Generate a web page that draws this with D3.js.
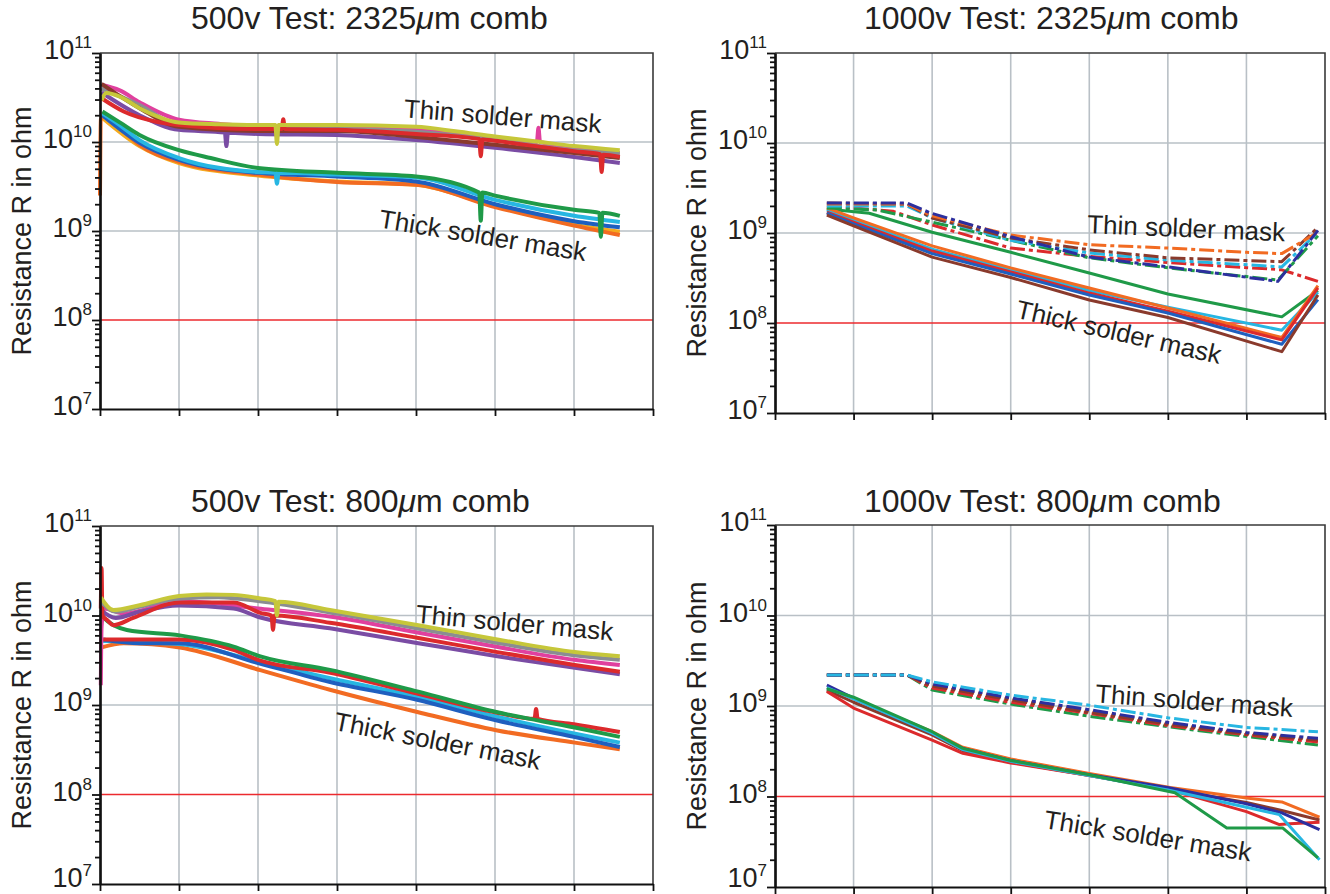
<!DOCTYPE html>
<html>
<head>
<meta charset="utf-8">
<script src="https://cdn.jsdelivr.net/npm/d3@7"></script>
<style>
  body { margin: 0; background: #fff; }
  text { font-family: "Liberation Sans", Arial, Helvetica, sans-serif; fill: #231f20; }
</style>
</head>
<body>
<svg id="chart" width="1330" height="894"></svg>
<script>
// x = position along the (unlabelled) time axis in grid units, R in ohm
const xTicks = [0, 1, 2, 3, 4, 5, 6, 7];
const decades = [1e7, 1e8, 1e9, 1e10, 1e11];
const limitR = 1e8;
const titles = ["500v Test: 2325μm comb", "1000v Test: 2325μm comb", "500v Test: 800μm comb", "1000v Test: 800μm comb"];
const yLabel = "Resistance R in ohm";
const thinLabel = "Thin solder mask";
const thickLabel = "Thick solder mask";

// --- 500v, 2325um comb ---
const tlThin = [
  [[0.02,4.4e10],[0.25,3.8e10],[0.5,2.8e10],[1.0,1.78e10],[1.5,1.6e10],[2.0,1.5e10],[3.0,1.48e10],[4.0,1.4e10],[5.0,1.1e10],[5.53,1.0e10],[5.55,1.45e10],[5.57,1.0e10],[6.0,8.8e9],[6.58,7.5e9]],
  [[0.02,4.0e10],[0.5,2.6e10],[1.0,1.55e10],[2.0,1.43e10],[3.0,1.4e10],[4.0,1.3e10],[5.0,1.05e10],[6.0,8.1e9],[6.58,7.5e9]],
  [[0.02,3.6e10],[0.5,2.0e10],[1.0,1.37e10],[1.58,1.28e10],[1.6,9.0e9],[1.62,1.27e10],[2.0,1.23e10],[3.0,1.2e10],[4.0,1.05e10],[5.0,8.6e9],[6.0,6.8e9],[6.58,5.8e9]],
  [[0.02,4.5e10],[0.5,2.4e10],[1.0,1.48e10],[2.0,1.33e10],[3.0,1.33e10],[4.0,1.14e10],[5.0,9.3e9],[6.0,7.5e9],[6.58,6.6e9]],
  [[0.02,3.1e10],[0.3,2.2e10],[0.7,1.7e10],[1.0,1.55e10],[2.0,1.4e10],[2.3,1.4e10],[2.32,1.8e10],[2.34,1.4e10],[3.0,1.37e10],[4.0,1.23e10],[4.8,1.08e10],[4.82,6.9e9],[4.84,1.07e10],[5.0,1.03e10],[6.0,7.9e9],[6.33,7.3e9],[6.35,4.6e9],[6.37,7.2e9],[6.58,6.8e9]],
  [[0.02,2.95e10],[0.08,3.55e10],[0.25,3.24e10],[0.5,2.4e10],[1.0,1.66e10],[1.5,1.58e10],[2.0,1.55e10],[2.22,1.55e10],[2.24,9.5e9],[2.26,1.55e10],[3.0,1.55e10],[4.0,1.48e10],[4.5,1.32e10],[5.0,1.15e10],[5.5,1.02e10],[6.0,9.0e9],[6.58,8.1e9]]
];
const tlThick = [
  [[0.02,1.9e10],[0.5,9.0e9],[1.0,5.8e9],[2.0,4.2e9],[3.0,3.6e9],[4.0,3.3e9],[5.0,1.9e9],[6.0,1.18e9],[6.58,9.8e8]],
  [[0.0,2.5e9],[0.01,1.78e10],[0.06,2.0e10],[0.25,1.44e10],[0.5,9.3e9],[1.0,6.0e9],[2.0,4.3e9],[3.0,3.55e9],[4.0,3.3e9],[5.0,1.86e9],[6.0,1.15e9],[6.58,9.0e8]],
  [[0.03,2.0e10],[0.5,9.8e9],[1.0,6.3e9],[2.0,4.5e9],[3.0,4.1e9],[4.0,3.6e9],[5.0,2.0e9],[6.0,1.29e9],[6.58,1.1e9]],
  [[0.03,2.1e10],[0.25,1.55e10],[0.5,1.05e10],[1.0,6.6e9],[2.0,4.6e9],[2.22,4.5e9],[2.24,3.4e9],[2.26,4.5e9],[3.0,4.3e9],[4.0,4.0e9],[5.0,2.24e9],[6.0,1.48e9],[6.58,1.26e9]],
  [[0.03,2.2e10],[0.25,1.66e10],[0.5,1.2e10],[1.0,8.1e9],[1.4,6.6e9],[2.0,5.1e9],[3.0,4.5e9],[4.0,4.1e9],[4.8,2.7e9],[4.82,1.3e9],[4.84,2.7e9],[5.0,2.5e9],[6.0,1.73e9],[6.32,1.6e9],[6.34,8.6e8],[6.36,1.6e9],[6.58,1.48e9]]
];

// --- 1000v, 2325um comb ---
const trThin = [
  [[0.66,2.0e9],[1.5,1.75e9],[2.0,1.23e9],[3.0,6.8e8],[4.0,5.5e8],[5.0,4.7e8],[6.45,3.9e8],[6.91,2.9e8]],
  [[0.66,1.9e9],[1.3,1.8e9],[2.0,1.32e9],[3.0,8.3e8],[4.0,5.3e8],[5.0,4.1e8],[6.4,3.0e8],[6.91,9.3e8]],
  [[0.66,2.0e9],[1.68,2.0e9],[2.0,1.47e9],[3.0,8.3e8],[4.0,6.0e8],[5.0,5.0e8],[6.45,4.2e8],[6.91,1.02e9]],
  [[0.66,2.15e9],[1.68,2.1e9],[2.0,1.47e9],[3.0,8.8e8],[4.0,6.5e8],[5.0,5.3e8],[6.45,4.8e8],[6.91,1.15e9]],
  [[0.66,2.1e9],[1.68,2.1e9],[2.0,1.55e9],[3.0,9.5e8],[4.0,7.4e8],[5.0,6.8e8],[6.0,6.1e8],[6.45,5.9e8],[6.91,1.02e9]],
  [[0.66,2.15e9],[1.68,2.15e9],[1.98,1.67e9],[3.0,9.1e8],[4.0,5.4e8],[5.0,4.2e8],[6.4,2.9e8],[6.91,1.07e9]]
];
const trThick = [
  [[0.66,1.85e9],[1.2,1.66e9],[2.0,1.02e9],[3.0,6.1e8],[4.0,3.6e8],[5.0,2.1e8],[6.45,1.17e8],[6.91,2.3e8]],
  [[0.66,1.8e9],[1.0,1.4e9],[2.0,6.6e8],[3.0,3.9e8],[4.0,2.3e8],[5.0,1.5e8],[6.45,8.3e7],[6.91,2.2e8]],
  [[0.66,1.9e9],[1.0,1.47e9],[2.0,7.2e8],[3.0,4.1e8],[4.0,2.45e8],[5.0,1.47e8],[6.45,6.9e7],[6.91,2.6e8]],
  [[0.66,1.7e9],[1.0,1.32e9],[2.0,6.3e8],[3.0,3.7e8],[4.0,2.15e8],[5.0,1.35e8],[6.45,6.5e7],[6.91,2.45e8]],
  [[0.66,1.66e9],[1.0,1.26e9],[2.0,5.9e8],[3.0,3.5e8],[4.0,2.05e8],[5.0,1.29e8],[6.45,5.8e7],[6.91,1.82e8]],
  [[0.66,1.58e9],[1.0,1.2e9],[2.0,5.4e8],[3.0,3.2e8],[4.0,1.8e8],[5.0,1.15e8],[6.45,4.8e7],[6.91,2.05e8]]
];

// --- 500v, 800um comb ---
const blThin = [
  [[0.01,1.66e9],[0.02,7.5e9],[0.05,1.2e10],[0.3,1.05e10],[1.0,1.45e10],[2.0,1.2e10],[3.0,9.5e9],[4.0,6.5e9],[5.0,4.5e9],[6.0,3.2e9],[6.58,2.8e9]],
  [[0.01,1.15e10],[0.2,9.4e9],[0.5,1.1e10],[1.0,1.29e10],[1.69,1.2e10],[2.03,9.5e9],[2.91,7.2e9],[4.03,4.9e9],[5.03,3.5e9],[6.01,2.6e9],[6.58,2.2e9]],
  [[0.01,1.2e10],[0.02,3.4e10],[0.03,1.0e10],[0.09,8.9e9],[0.17,7.8e9],[0.42,9.4e9],[1.01,1.4e10],[1.69,1.4e10],[2.03,1.07e10],[2.17,1.0e10],[2.19,6.9e9],[2.21,1.0e10],[2.91,8.3e9],[4.03,5.6e9],[5.03,3.9e9],[6.01,2.8e9],[6.58,2.35e9]],
  [[0.02,1.4e10],[0.2,1.1e10],[0.5,1.25e10],[1.0,1.55e10],[1.5,1.6e10],[2.0,1.45e10],[3.0,1.05e10],[4.0,7.2e9],[5.0,5.0e9],[6.0,3.6e9],[6.58,3.2e9]],
  [[0.01,1.6e10],[0.17,1.15e10],[0.5,1.3e10],[1.0,1.65e10],[1.35,1.72e10],[1.69,1.7e10],[2.03,1.55e10],[2.22,1.45e10],[2.24,1.0e10],[2.26,1.42e10],[2.91,1.15e10],[4.03,7.8e9],[5.03,5.4e9],[6.01,3.9e9],[6.58,3.5e9]]
];
const blThick = [
  [[0.02,4.4e9],[0.3,4.9e9],[1.01,4.4e9],[2.03,2.45e9],[2.91,1.48e9],[4.03,8.3e8],[5.03,5.2e8],[6.01,3.8e8],[6.58,3.2e8]],
  [[0.04,5.2e9],[1.0,4.8e9],[2.0,3.1e9],[2.9,2.0e9],[4.0,1.25e9],[5.0,7.5e8],[6.0,4.8e8],[6.58,3.8e8]],
  [[0.04,5.4e9],[0.5,4.9e9],[1.0,4.9e9],[2.0,2.95e9],[2.9,1.82e9],[4.0,1.15e9],[5.0,6.8e8],[6.0,4.4e8],[6.58,3.4e8]],
  [[0.04,5.4e9],[1.0,5.4e9],[1.7,4.1e9],[2.0,3.2e9],[2.9,2.3e9],[4.0,1.35e9],[5.0,8.3e8],[5.5,7.0e8],[5.52,9.0e8],[5.54,7.0e8],[6.0,6.1e8],[6.58,5.0e8]],
  [[0.01,1.05e10],[0.04,9.6e9],[0.34,6.9e9],[1.01,6.0e9],[1.69,4.5e9],[2.03,3.5e9],[2.91,2.47e9],[4.03,1.41e9],[5.03,8.3e8],[6.01,5.6e8],[6.58,4.4e8]]
];

// --- 1000v, 800um comb ---
const brThin = [
  [[0.66,2.2e9],[1.68,2.2e9],[2.0,1.7e9],[3.0,1.2e9],[4.0,8.8e8],[5.0,6.4e8],[6.0,5.0e8],[6.91,4.3e8]],
  [[0.66,2.2e9],[1.68,2.2e9],[2.0,1.5e9],[3.0,1.05e9],[4.0,7.7e8],[5.0,5.9e8],[6.0,4.6e8],[6.91,3.7e8]],
  [[0.66,2.2e9],[1.68,2.2e9],[2.0,1.58e9],[3.0,1.1e9],[4.0,8.3e8],[5.0,6.1e8],[6.0,4.8e8],[6.91,4.0e8]],
  [[0.66,2.2e9],[1.68,2.2e9],[2.0,1.66e9],[3.0,1.17e9],[4.0,8.5e8],[5.0,6.3e8],[6.0,4.9e8],[6.91,4.2e8]],
  [[0.66,2.2e9],[1.68,2.2e9],[2.0,1.75e9],[3.0,1.23e9],[4.0,9.1e8],[5.0,6.6e8],[6.0,5.1e8],[6.91,4.4e8]],
  [[0.66,2.2e9],[1.68,2.2e9],[2.0,1.85e9],[3.0,1.32e9],[4.0,1.02e9],[5.0,7.4e8],[6.0,5.8e8],[6.91,5.2e8]]
];
const brThick = [
  [[0.66,1.6e9],[1.0,1.2e9],[2.0,5.2e8],[2.39,3.5e8],[3.0,2.6e8],[4.0,1.8e8],[5.03,1.26e8],[6.0,9.6e7],[6.45,8.7e7],[6.93,5.9e7]],
  [[0.66,1.5e9],[1.0,1.1e9],[2.0,4.8e8],[2.39,3.2e8],[3.0,2.4e8],[4.0,1.7e8],[5.0,1.2e8],[6.0,8.6e7],[6.45,7.0e7],[6.93,5.5e7]],
  [[0.66,1.45e9],[1.0,9.5e8],[1.5,6.3e8],[2.0,4.2e8],[2.39,3.0e8],[3.0,2.35e8],[4.0,1.7e8],[5.0,1.2e8],[6.0,6.8e7],[6.42,4.9e7],[6.55,5.0e7],[6.93,5.2e7]],
  [[0.66,1.7e9],[0.98,1.25e9],[2.0,5.0e8],[2.39,3.4e8],[3.0,2.5e8],[4.0,1.74e8],[5.03,1.24e8],[6.0,8.3e7],[6.45,6.6e7],[6.93,4.3e7]],
  [[0.66,1.6e9],[1.0,1.2e9],[2.0,5.0e8],[2.39,3.3e8],[3.0,2.45e8],[4.0,1.7e8],[5.0,1.18e8],[6.0,7.6e7],[6.42,6.3e7],[6.93,2.0e7]],
  [[0.66,1.55e9],[1.0,1.25e9],[2.0,5.2e8],[2.39,3.4e8],[3.0,2.5e8],[4.0,1.74e8],[5.09,1.1e8],[5.75,4.5e7],[6.46,4.5e7],[6.91,2.1e7]]
];

// label anchors [x, R, angle]
const labelSpots = {
  tl: [[3.84, 1.9e10, 4.6], [3.52, 1.1e9, 9.3]],
  tr: [[3.97, 1.0e9, 2.4], [3.05, 1.15e8, 12.8]],
  bl: [[3.99, 8.3e9, 5.2], [2.95, 5.3e8, 11]],
  br: [[4.07, 1.1e9, 4.3], [3.41, 4.5e7, 9.2]]
};

// colours
const c = {
  olive: "#c6c73a", magenta: "#e0409e", gray: "#8a8d92", brown: "#8a3a2c", purple: "#7a4ca4",
  red: "#dc2a2c", green: "#1f9a48", cyan: "#27b6e2", blue: "#1f5fbf", orange: "#f26b22",
  amber: "#f5aa1e", navy: "#2c2f9e"
};
const tlThinColors = [c.magenta, c.gray, c.purple, c.brown, c.red, c.olive];
const tlThickColors = [c.amber, c.orange, c.blue, c.cyan, c.green];
const trThinColors = [c.red, c.green, c.cyan, c.brown, c.orange, c.navy];
const trThickColors = [c.green, c.cyan, c.orange, c.red, c.blue, c.brown];
const blThinColors = [c.magenta, c.purple, c.red, c.gray, c.olive];
const blThickColors = [c.orange, c.cyan, c.blue, c.red, c.green];
const brThinColors = [c.orange, c.green, c.red, c.brown, c.navy, c.cyan];
const brThickColors = [c.orange, c.brown, c.red, c.navy, c.cyan, c.green];

const panels = [
  { key: "tl", left: 100, top: 53, w: 553, h: 356, title: titles[0], tx: 191, ty: 29, thin: tlThin, thick: tlThick, thinC: tlThinColors, thickC: tlThickColors, dashed: false },
  { key: "tr", left: 775, top: 53, w: 550, h: 360, title: titles[1], tx: 864, ty: 29, thin: trThin, thick: trThick, thinC: trThinColors, thickC: trThickColors, dashed: true },
  { key: "bl", left: 100, top: 526, w: 553, h: 358, title: titles[2], tx: 191, ty: 512, thin: blThin, thick: blThick, thinC: blThinColors, thickC: blThickColors, dashed: false },
  { key: "br", left: 775, top: 525, w: 550, h: 362, title: titles[3], tx: 864, ty: 512, thin: brThin, thick: brThick, thinC: brThinColors, thickC: brThickColors, dashed: true }
];

const svg = d3.select("#chart");

function drawPanel(p) {
  const x = d3.scaleLinear().domain([0, 7]).range([p.left, p.left + p.w]);
  const y = d3.scaleLog().domain([1e7, 1e11]).range([p.top + p.h, p.top]);
  const g = svg.append("g");

  // title, mu in italics
  const parts = p.title.split("μ");
  const t = g.append("text").attr("x", p.tx).attr("y", p.ty).attr("font-size", 32);
  t.append("tspan").text(parts[0]);
  t.append("tspan").attr("font-style", "italic").text("μ");
  t.append("tspan").text(parts[1]);

  // grid
  g.selectAll(".vg").data(xTicks.slice(1, -1)).join("line")
    .attr("x1", d => x(d)).attr("x2", d => x(d))
    .attr("y1", p.top).attr("y2", p.top + p.h)
    .attr("stroke", "#b9c0c6").attr("stroke-width", 1.6);
  g.selectAll(".hg").data([1e9, 1e10]).join("line")
    .attr("x1", p.left).attr("x2", p.left + p.w)
    .attr("y1", d => y(d)).attr("y2", d => y(d))
    .attr("stroke", "#b9c0c6").attr("stroke-width", 1.6);

  // limit line
  g.append("line")
    .attr("x1", p.left).attr("x2", p.left + p.w)
    .attr("y1", y(limitR)).attr("y2", y(limitR))
    .attr("stroke", "#ec2a2e").attr("stroke-width", 1.6);

  // series
  const line = d3.line().x(d => x(d[0])).y(d => y(d[1]))
    .curve(p.dashed ? d3.curveLinear : d3.curveMonotoneX);
  const sw = p.dashed ? 3 : 4;
  p.thick.forEach((s, i) => {
    g.append("path").datum(s).attr("d", line)
      .attr("fill", "none").attr("stroke", p.thickC[i])
      .attr("stroke-width", sw).attr("stroke-linejoin", "round");
  });
  p.thin.forEach((s, i) => {
    g.append("path").datum(s).attr("d", line)
      .attr("fill", "none").attr("stroke", p.thinC[i])
      .attr("stroke-width", sw).attr("stroke-linejoin", "round")
      .attr("stroke-dasharray", p.dashed ? "15,4,4,4" : null);
  });

  // frame: top + right
  g.append("path")
    .attr("d", `M${p.left},${p.top}H${p.left + p.w}V${p.top + p.h}`)
    .attr("fill", "none").attr("stroke", "#3a3a3a").attr("stroke-width", 1.6);

  // y axis, minor + major ticks
  const minor = [];
  decades.slice(0, -1).forEach(d => { for (let k = 2; k <= 9; k++) minor.push(k * d); });
  const ya = g.append("g").attr("transform", `translate(${p.left},0)`)
    .call(d3.axisLeft(y).tickValues(minor).tickSize(5).tickSizeOuter(0).tickFormat(""));
  ya.append("g").call(d3.axisLeft(y).tickValues(decades).tickSize(8).tickSizeOuter(0).tickFormat(""));
  ya.selectAll("path").attr("stroke", "#111").attr("stroke-width", 2.2);
  ya.selectAll("line").attr("stroke", "#111").attr("stroke-width", 1.8);

  // decade labels 10^n (kept inside the page at the bottom edge)
  decades.forEach(d => {
    const lt = g.append("text").attr("x", p.left - 8).attr("y", Math.min(y(d) + 6, 887))
      .attr("text-anchor", "end").attr("font-size", 27);
    lt.append("tspan").text("10");
    lt.append("tspan").attr("dy", -11).attr("font-size", 17).text(Math.round(Math.log10(d)));
  });

  // x axis
  const xa = g.append("g").attr("transform", `translate(0,${p.top + p.h})`)
    .call(d3.axisBottom(x).tickValues(xTicks).tickSize(7).tickSizeOuter(0).tickFormat(""));
  xa.selectAll("path").attr("stroke", "#111").attr("stroke-width", 2.2);
  xa.selectAll("line").attr("stroke", "#111").attr("stroke-width", 1.8);

  // y label
  g.append("text")
    .attr("transform", `translate(${p.left - 69},${p.top + p.h / 2}) rotate(-90)`)
    .attr("text-anchor", "middle").attr("font-size", 27).text(yLabel);

  // group labels
  const spots = labelSpots[p.key];
  [thinLabel, thickLabel].forEach((txt, i) => {
    const [lx, lr, ang] = spots[i];
    g.append("text")
      .attr("transform", `translate(${x(lx)},${y(lr)}) rotate(${ang})`)
      .attr("font-size", 26).text(txt);
  });
}

panels.forEach(drawPanel);
</script>
</body>
</html>
